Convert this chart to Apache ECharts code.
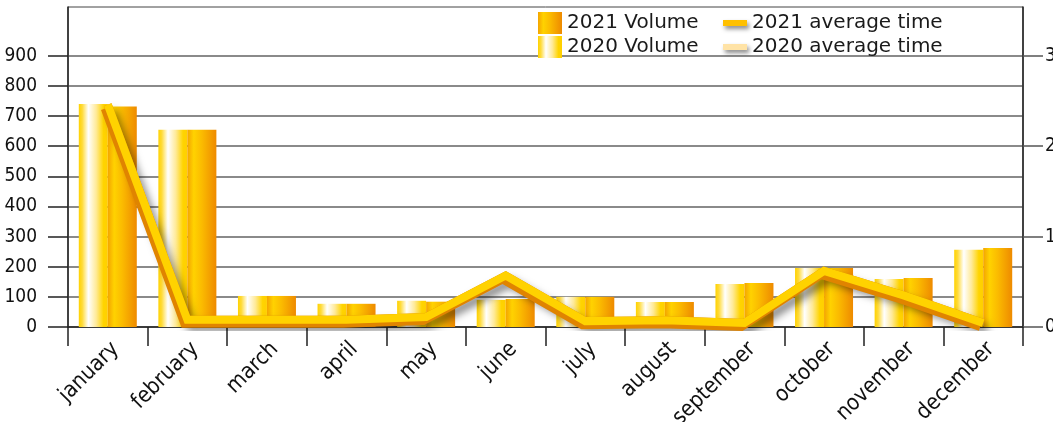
<!DOCTYPE html>
<html>
<head>
<meta charset="utf-8">
<script src="https://cdn.jsdelivr.net/npm/echarts@6/dist/echarts.min.js"></script>
<style>
  html, body { margin: 0; padding: 0; background: #fff; }
  #chart { width: 1053px; height: 422px; }
</style>
</head>
<body>
<div id="chart"></div>
<script>
const months = ['january', 'february', 'march', 'april', 'may', 'june',
  'july', 'august', 'september', 'october', 'november', 'december']
const volume2020 = [740, 655, 103, 77, 87, 90, 100, 83, 143, 196, 159, 256]
const volume2021 = [732, 655, 103, 77, 84, 93, 100, 83, 146, 196, 163, 262]
const avgTime2021 = [2.46, 0.08, 0.08, 0.08, 0.11, 0.57, 0.065, 0.075, 0.045, 0.62, 0.35, 0.045]
const avgTime2020 = []
const leftTicks = [0, 100, 200, 300, 400, 500, 600, 700, 800, 900]
const rightTicks = [0, 1, 2, 3]

const narrow = "'DejaVu Sans Condensed', 'Liberation Sans Narrow', sans-serif"
const legendFont = "'DejaVu Sans', sans-serif"
const leftMax = 1062

const grad2020 = new echarts.graphic.LinearGradient(0, 0, 1, 0, [
  { offset: 0, color: '#FFD200' },
  { offset: 0.12, color: '#FFDB3A' },
  { offset: 0.33, color: '#FFFFFF' },
  { offset: 0.6, color: '#FFEA98' },
  { offset: 0.85, color: '#FFD400' },
  { offset: 1, color: '#FFCF00' }
])
const grad2021 = new echarts.graphic.LinearGradient(0, 0, 1, 0, [
  { offset: 0, color: '#F4A400' },
  { offset: 0.22, color: '#FFD200' },
  { offset: 0.5, color: '#FBBB00' },
  { offset: 1, color: '#EE8A00' }
])

// grid lines for 0..900 only, the 1000 and max lines stay hidden
const splitColors = leftTicks.map(() => '#8a8a8a').concat(['rgba(0,0,0,0)', 'rgba(0,0,0,0)'])

const chart = echarts.init(document.getElementById('chart'))
chart.setOption({
  animation: false,
  grid: {
    left: 68, right: 30, top: 7, bottom: 95,
    containLabel: false, outerBoundsMode: 'none',
    show: true, borderColor: '#444', borderWidth: 1
  },
  legend: [
    {
      data: ['2021 Volume', '2020 Volume'],
      orient: 'vertical', left: 538, top: 12, padding: 0,
      icon: 'rect',
      itemWidth: 24, itemHeight: 22, itemGap: 2,
      textStyle: { fontSize: 20, color: '#1a1a1a', fontFamily: legendFont, lineHeight: 22 }
    },
    {
      data: ['2021 average time', '2020 average time'],
      orient: 'vertical', left: 723, top: 12, padding: 0,
      icon: 'rect',
      itemWidth: 24, itemHeight: 6, itemGap: 2,
      itemStyle: { shadowColor: 'rgba(0,0,0,0.45)', shadowBlur: 4, shadowOffsetX: 2, shadowOffsetY: 3 },
      lineStyle: { width: 0 },
      textStyle: { fontSize: 20, color: '#1a1a1a', fontFamily: legendFont, lineHeight: 22 }
    }
  ],
  xAxis: {
    type: 'category',
    data: months,
    axisLine: { lineStyle: { color: '#222', width: 1.5 } },
    axisTick: { show: true, interval: 0, length: 19, lineStyle: { color: '#222', width: 1.5 } },
    axisLabel: {
      interval: 0, rotate: 45, margin: 11, verticalAlign: 'top',
      fontSize: 22, color: '#111', fontFamily: narrow
    }
  },
  yAxis: [
    {
      type: 'value', min: 0, max: leftMax, interval: 100,
      axisLine: { show: true, lineStyle: { color: '#222', width: 1.5 } },
      axisTick: { show: true, length: 20, customValues: leftTicks, lineStyle: { color: '#222', width: 1.5 } },
      axisLabel: { customValues: leftTicks, margin: 31, fontSize: 19, color: '#111', fontFamily: narrow },
      splitLine: { show: true, lineStyle: { color: splitColors, width: 2 } }
    },
    {
      type: 'value', min: 0, max: leftMax / 300, interval: 1,
      position: 'right',
      axisLine: { show: true, lineStyle: { color: '#222', width: 1.5 } },
      axisTick: { show: true, length: 20, customValues: rightTicks, lineStyle: { color: '#555', width: 1.5 } },
      axisLabel: { customValues: rightTicks, margin: 22, fontSize: 19, color: '#111', fontFamily: narrow },
      splitLine: { show: false }
    }
  ],
  series: [
    {
      name: '2020 Volume', type: 'bar', data: volume2020,
      barWidth: 29, barGap: '0%',
      itemStyle: { color: grad2020 }
    },
    {
      name: '2021 Volume', type: 'bar', data: volume2021,
      barWidth: 29, barGap: '0%',
      itemStyle: { color: grad2021 }
    },
    {
      // depth + soft shadow under the 2021 line
      name: 'depth', type: 'line', yAxisIndex: 1, data: avgTime2021,
      symbol: 'none', silent: true, z: 3,
      lineStyle: {
        color: '#E08400', width: 8, join: 'miter', cap: 'butt',
        shadowColor: 'rgba(0,0,0,0.55)', shadowBlur: 8, shadowOffsetX: 4, shadowOffsetY: 7
      }
    },
    {
      name: '2021 average time', type: 'line', yAxisIndex: 1, data: avgTime2021,
      symbol: 'none', z: 4,
      itemStyle: { color: '#FFC000' },
      lineStyle: {
        color: '#FFD200', width: 8, join: 'miter', cap: 'butt',
        shadowColor: '#E08400', shadowBlur: 0, shadowOffsetX: -3, shadowOffsetY: 4
      }
    },
    {
      name: '2020 average time', type: 'line', yAxisIndex: 1, data: avgTime2020,
      symbol: 'none', z: 4,
      itemStyle: { color: '#FFE3A6' },
      lineStyle: { color: '#FFE3A6', width: 8 }
    }
  ]
})
</script>
</body>
</html>
